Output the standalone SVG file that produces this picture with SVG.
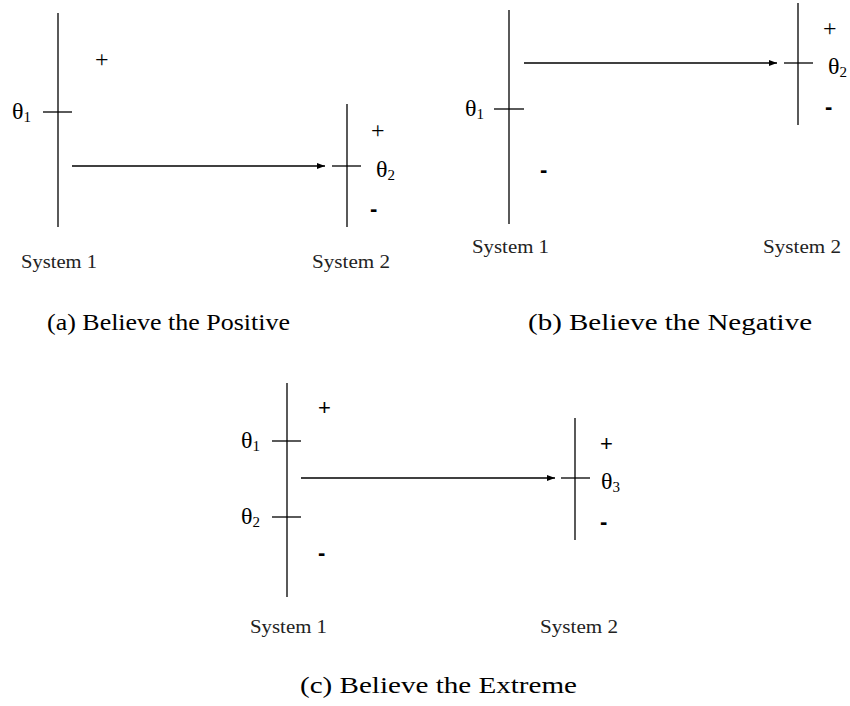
<svg xmlns="http://www.w3.org/2000/svg" width="850" height="706" viewBox="0 0 850 706">
<style>
.ln{stroke:#000;stroke-width:1.3;fill:none}
.sys{font-family:"Liberation Serif",serif;font-size:19px;fill:#222}
.th{font-family:"Liberation Serif",serif;font-size:24px;fill:#000}
.sub{font-size:15px}
.sg{font-family:"Liberation Sans",Arial,sans-serif;font-size:22px;fill:#000}
.sp{font-family:"Liberation Serif",serif;font-size:24px;fill:#000}
.cap{font-family:"Liberation Serif",serif;font-size:23px;fill:#000}
</style>
<defs>
<marker id="ah" markerWidth="8" markerHeight="6" refX="8" refY="3" orient="auto" markerUnits="userSpaceOnUse">
<path d="M0,0 L8,3 L0,6 Z" fill="#000"/>
</marker>
</defs>
<rect width="850" height="706" fill="#fff"/>

<!-- Panel (a) -->
<g id="a-sys1">
<line class="ln" x1="58" y1="13" x2="58" y2="227"/>
<line class="ln" x1="43" y1="112" x2="72" y2="112"/>
<text class="th" x="12" y="119">θ<tspan class="sub" dy="3">1</tspan></text>
<text class="sp" x="95" y="67">+</text>
<text class="sys" x="21" y="268" textLength="76" lengthAdjust="spacingAndGlyphs">System 1</text>
</g>
<g id="a-sys2">
<line class="ln" x1="347" y1="104" x2="347" y2="227"/>
<line class="ln" x1="332" y1="166" x2="361" y2="166"/>
<text class="sp" x="371" y="138">+</text>
<text class="th" x="376" y="177">θ<tspan class="sub" dy="3">2</tspan></text>
<text class="sg" x="370" y="216" font-weight="bold">-</text>
<text class="sys" x="312" y="268" textLength="78" lengthAdjust="spacingAndGlyphs">System 2</text>
</g>
<text id="cap-a" class="cap" x="47" y="330" textLength="243" lengthAdjust="spacingAndGlyphs">(a) Believe the Positive</text>

<!-- Panel (b) -->
<g id="b-sys1">
<line class="ln" x1="509" y1="10" x2="509" y2="224"/>
<line class="ln" x1="494" y1="109" x2="524" y2="109"/>
<text class="th" x="465" y="116">θ<tspan class="sub" dy="3">1</tspan></text>
<text class="sg" x="540" y="177" font-weight="bold">-</text>
<text class="sys" x="472" y="253" textLength="77" lengthAdjust="spacingAndGlyphs">System 1</text>
</g>
<g id="b-sys2">
<line class="ln" x1="798" y1="3" x2="798" y2="125"/>
<line class="ln" x1="784" y1="63" x2="813" y2="63"/>
<text class="sp" x="823" y="36">+</text>
<text class="th" x="828" y="74">θ<tspan class="sub" dy="3">2</tspan></text>
<text class="sg" x="825" y="114" font-weight="bold">-</text>
<text class="sys" x="763" y="253" textLength="78" lengthAdjust="spacingAndGlyphs">System 2</text>
</g>
<text id="cap-b" class="cap" x="528" y="330" textLength="284" lengthAdjust="spacingAndGlyphs">(b) Believe the Negative</text>

<!-- Panel (c) -->
<g id="c-sys1">
<line class="ln" x1="287" y1="383" x2="287" y2="597"/>
<line class="ln" x1="272" y1="441" x2="301" y2="441"/>
<line class="ln" x1="272" y1="517" x2="301" y2="517"/>
<text class="th" x="241" y="448">θ<tspan class="sub" dy="3">1</tspan></text>
<text class="th" x="241" y="524">θ<tspan class="sub" dy="3">2</tspan></text>
<text class="sg" x="318" y="415">+</text>
<text class="sg" x="318" y="560" font-weight="bold">-</text>
<text class="sys" x="250" y="633" textLength="77" lengthAdjust="spacingAndGlyphs">System 1</text>
</g>
<g id="c-sys2">
<line class="ln" x1="575" y1="418" x2="575" y2="540"/>
<line class="ln" x1="561" y1="478" x2="590" y2="478"/>
<text class="sg" x="600" y="451">+</text>
<text class="th" x="601" y="489">θ<tspan class="sub" dy="3">3</tspan></text>
<text class="sg" x="600" y="529" font-weight="bold">-</text>
<text class="sys" x="540" y="633" textLength="78" lengthAdjust="spacingAndGlyphs">System 2</text>
</g>
<text id="cap-c" class="cap" x="300" y="693" textLength="277" lengthAdjust="spacingAndGlyphs">(c) Believe the Extreme</text>

<g id="connectors">
<line class="ln" x1="72" y1="166" x2="325" y2="166" marker-end="url(#ah)"/>
<line class="ln" x1="524" y1="63" x2="777" y2="63" marker-end="url(#ah)"/>
<line class="ln" x1="301" y1="478" x2="555" y2="478" marker-end="url(#ah)"/>
</g>
</svg>
